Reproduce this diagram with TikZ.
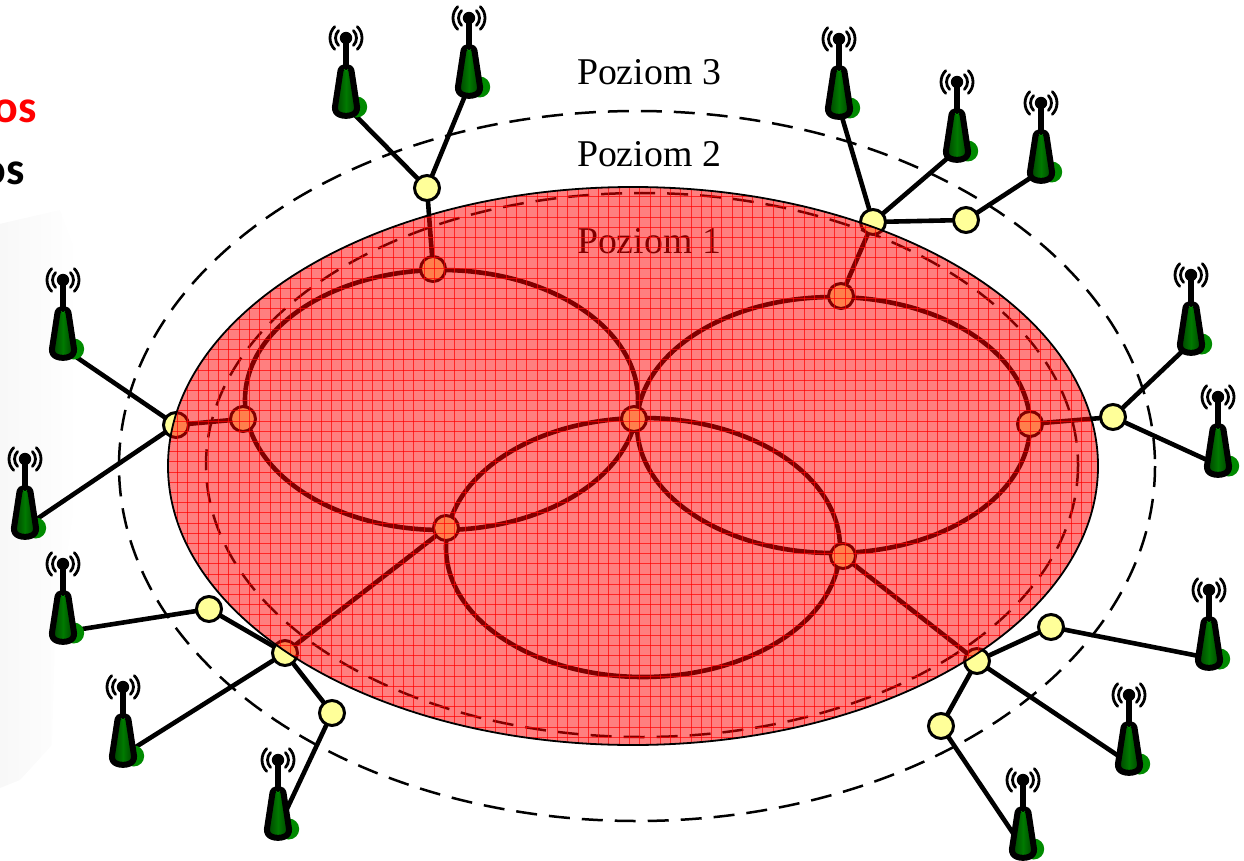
\documentclass[tikz,border=0pt]{standalone}
\usepackage{fontspec}
\setmainfont{Liberation Serif}
\newfontfamily\labfont{Carlito}
\usetikzlibrary{shapes.geometric}
\pgfdeclarelayer{conn}
\pgfdeclarelayer{over}
\pgfsetlayers{conn,main,over}
\definecolor{nodeyellow}{HTML}{FFFF99}
\definecolor{towergreen}{HTML}{007A00}
\definecolor{towerdark}{HTML}{003C00}
\definecolor{towerdot}{HTML}{008A00}
\tikzset{
  junction/.style={circle,draw=black,fill=nodeyellow,line width=3pt,minimum size=25pt,inner sep=0pt},
  link/.style={line width=4.6pt,line cap=round},
  ringpath/.style={ellipse,draw=black,line width=4.6pt,inner sep=0pt,outer sep=0pt},
  dashring/.style={draw=black,line width=2.5pt,dash pattern=on 21pt off 12pt},
  poziom/.style={font=\fontsize{37.8}{40}\selectfont,inner sep=0pt},
  clipped/.style={font=\labfont\bfseries\fontsize{46}{48}\selectfont,inner sep=0pt,anchor=base east},
  tower/.pic={
    \coordinate (-b) at (0,68);
    \fill[towerdot] (10.7,69) circle[radius=10.5];
    \draw[line width=6pt,black,left color=towerdark,right color=towerdark,middle color=towergreen,rounded corners=3pt,line join=round]
      (-5,29.5) -- (5,29.5) -- (11.5,72) .. controls (6,79) and (-6,79) .. (-11.5,72) -- cycle;
    \draw[line width=1pt,towerdot] (-2,31.5) -- (0,33) -- (2,31.5);
    \draw[line width=5.5pt,black] (0,0) -- (0,28);
    \fill[black] (0,0) circle[radius=6.2];
    \foreach \r in {10.5,16}{
      \draw[line width=2.8pt,black,line cap=round] ([shift={(45:\r)}]0,0) arc[start angle=45,end angle=-45,radius=\r];
      \draw[line width=2.8pt,black,line cap=round] ([shift={(135:\r)}]0,0) arc[start angle=135,end angle=225,radius=\r];
    }
  }
}
\begin{document}
\begin{tikzpicture}[x=1pt,y=-1pt]
\useasboundingbox (0,0) rectangle (1244,861);

\begin{pgfonlayer}{conn}
  \shade[left color=black!3,right color=white] (-5,225) -- (60,210) -- (75,250) -- (78,480) -- (55,640) -- (52,745) -- (20,780) -- (-5,790) -- cycle;
\end{pgfonlayer}

% clipped labels at the left edge
\node[clipped,text=red] (lab1) at (37,123) {os};
\node[clipped,text=black] (lab2) at (25,185) {os};

% level labels
\node[poziom] (p3) at (649,72) {Poziom 3};
\node[poziom] (p2) at (649,154) {Poziom 2};
\node[poziom] (p1) at (649,241) {Poziom 1};

% level boundaries
\draw[dashring] (637,466) ellipse[x radius=518,y radius=355];
\draw[dashring] (642,465) ellipse[x radius=436,y radius=272];

% rings
\node[ringpath,minimum width=393pt,minimum height=260pt] (ringL) at (441.5,400) {};
\node[ringpath,minimum width=393pt,minimum height=256pt] (ringR) at (833.5,425) {};
\node[ringpath,minimum width=394pt,minimum height=259pt] (ringB) at (643,547.5) {};

% level 1 nodes
\node[junction] (a) at (433,269) {};
\node[junction] (b) at (841,296) {};
\node[junction] (c) at (243,419) {};
\node[junction] (d) at (1030,424) {};
\node[junction] (e) at (634,419) {};
\node[junction] (f) at (446,528) {};
\node[junction] (g) at (843,556) {};

% level 2/3 nodes
\node[junction] (A) at (427,188) {};
\node[junction] (B) at (873,222) {};
\node[junction] (C) at (966,220) {};
\node[junction] (D) at (1113,417) {};
\node[junction] (E) at (1051,627) {};
\node[junction] (F) at (977,661) {};
\node[junction] (G) at (941,726) {};
\node[junction] (H) at (332,713) {};
\node[junction] (I) at (285,653) {};
\node[junction] (J) at (209,609) {};
\node[junction] (K) at (176,425) {};

% towers
\pic (t1) at (346,38) {tower};
\pic (t2) at (469,18) {tower};
\pic (t3) at (839,39) {tower};
\pic (t4) at (957,82) {tower};
\pic (t5) at (1041,103) {tower};
\pic (t6) at (1191,275) {tower};
\pic (t7) at (1218,397) {tower};
\pic (t8) at (1209,590) {tower};
\pic (t9) at (1129,695) {tower};
\pic (t10) at (1023,780) {tower};
\pic (t11) at (278,760) {tower};
\pic (t12) at (123,687) {tower};
\pic (t13) at (63,564) {tower};
\pic (t14) at (25,459) {tower};
\pic (t15) at (63,280) {tower};

% connectors
\begin{pgfonlayer}{conn}
  \draw[link] (t1-b) -- (A);
  \draw[link] (t2-b) -- (A);
  \draw[link] (A) -- (a);
  \draw[link] (t3-b) -- (B);
  \draw[link] (t4-b) -- (B);
  \draw[link] (t5-b) -- (C);
  \draw[link] (C) -- (B);
  \draw[link] (B) -- (b);
  \draw[link] (t6-b) -- (D);
  \draw[link] (t7-b) -- (D);
  \draw[link] (D) -- (d);
  \draw[link] (t8-b) -- (E);
  \draw[link] (E) -- (F);
  \draw[link] (t9-b) -- (F);
  \draw[link] (t10-b) -- (G);
  \draw[link] (G) -- (F);
  \draw[link] (F) -- (g);
  \draw[link] (t11-b) -- (H);
  \draw[link] (H) -- (I);
  \draw[link] (t12-b) -- (I);
  \draw[link] (t13-b) -- (J);
  \draw[link] (J) -- (I);
  \draw[link] (I) -- (f);
  \draw[link] (t14-b) -- (K);
  \draw[link] (t15-b) -- (K);
  \draw[link] (K) -- (c);
\end{pgfonlayer}

% translucent level-1 area on top of everything inside it
\begin{pgfonlayer}{over}
  \begin{scope}
    \clip (633,466) ellipse[x radius=465,y radius=279];
    \fill[red,opacity=.5] (160,180) rectangle (1105,750);
    \foreach \k in {-40,...,52}{
      \pgfmathsetmacro{\xx}{567.7+10.27*\k}
      \draw[red,opacity=.7,line width=.7pt] (\xx,180) -- (\xx,750);
    }
    \foreach \k in {-3,...,54}{
      \pgfmathsetmacro{\yy}{206.7+10.2*\k}
      \draw[red,opacity=.7,line width=.7pt] (160,\yy) -- (1105,\yy);
    }
  \end{scope}
  \draw[black,line width=1.8pt] (633,466) ellipse[x radius=465,y radius=279];
\end{pgfonlayer}
\end{tikzpicture}
\end{document}
